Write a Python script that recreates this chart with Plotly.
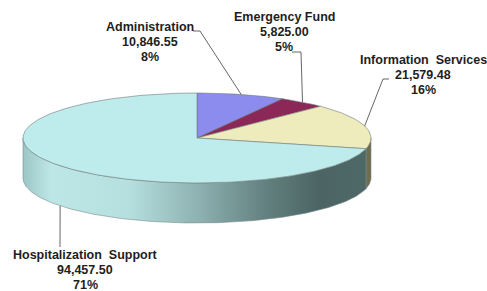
import numpy as np
import plotly.graph_objects as go

# ---- data ----
categories = ["Administration", "Emergency Fund", "Information Services", "Hospitalization Support"]
values = [10846.55, 5825.00, 21579.48, 94457.50]
pct_labels = ["8%", "5%", "16%", "71%"]

# ---- style / geometry ----
top_colors = ["#8C8CEE", "#8B2858", "#EEEBBC", "#BEEBEB"]
side_colors = ["#5A5AA0", "#5A1A38", "#6E6C4C", "#7FA3A3"]
W, H = 487, 291
cx, cy, rx, ry, depth = 197, 138, 174, 45, 40

def pt(t, dy=0.0):
    return cx + rx * np.sin(t), cy - ry * np.cos(t) + dy

total = sum(values)
fr = np.array(values) / total
cum = np.concatenate([[0], np.cumsum(fr)]) * 2 * np.pi

fig = go.Figure()

# side walls (front half only: t in (pi/2, 3pi/2))
for i in range(len(values)):
    a, b = max(cum[i], np.pi / 2), min(cum[i + 1], 3 * np.pi / 2)
    if b <= a:
        continue
    t = np.linspace(a, b, 200)
    xt, yt = pt(t)
    xb, yb = pt(t[::-1], depth)
    xs = np.concatenate([xt, xb, xt[:1]])
    ys = np.concatenate([yt, yb, yt[:1]])
    if categories[i] == "Hospitalization Support":
        kw = dict(fillgradient=dict(type="horizontal", start=cx - rx, stop=cx + rx,
                                    colorscale=[[0, "#9CC6C6"], [0.08, "#BDE7E7"], [0.3, "#B6E0E0"],
                                                [0.5, "#8FB2B2"], [0.7, "#62807F"], [0.85, "#4C6464"],
                                                [1, "#4E6868"]]))
    else:
        kw = dict(fillcolor=side_colors[i])
    fig.add_trace(go.Scatter(x=xs, y=ys, mode="lines", fill="toself",
                             line=dict(color="#7A8A8A", width=0.6), hoverinfo="skip", **kw))

# top face slices
for i in range(len(values)):
    t = np.linspace(cum[i], cum[i + 1], max(int(360 * fr[i]), 4))
    xa, ya = pt(t)
    xs = np.concatenate([[cx], xa, [cx]])
    ys = np.concatenate([[cy], ya, [cy]])
    fig.add_trace(go.Scatter(x=xs, y=ys, mode="lines", fill="toself", fillcolor=top_colors[i],
                             line=dict(color="#6F7A7A", width=0.6), hoverinfo="skip"))

# labels (one annotation per text line)
label_x = [150, 284, 423, 85]
label_y0 = [27, 17, 60, 255]
line_gap = 15
elbows = [[(193, 31), (200, 31)], [(292, 52), (301, 52)], [(389, 79), (383, 79)], [(60, 247)]]
for i in range(len(values)):
    name = categories[i].replace(" ", "\u00a0 ") if i >= 2 else categories[i]
    lines = [name, f"{values[i]:,.2f}", pct_labels[i]]
    for k, s in enumerate(lines):
        fig.add_annotation(x=label_x[i], y=label_y0[i] + k * line_gap, text=f"<b>{s}</b>",
                           showarrow=False, xanchor="center", yanchor="middle",
                           font=dict(family="Liberation Sans, Arial", size=12.5, color="#1E1E1E"))
    mid = (cum[i] + cum[i + 1]) / 2
    ex, ey = pt(mid, depth if np.cos(mid) < 0 else 0)
    lx = [p[0] for p in elbows[i]] + [ex]
    ly = [p[1] for p in elbows[i]] + [ey]
    fig.add_trace(go.Scatter(x=lx, y=ly, mode="lines", line=dict(color="#666666", width=1),
                             hoverinfo="skip"))

fig.update_layout(width=W, height=H, margin=dict(l=0, r=0, t=0, b=0),
                  paper_bgcolor="white", plot_bgcolor="white", showlegend=False,
                  xaxis=dict(range=[0, W], visible=False, fixedrange=True),
                  yaxis=dict(range=[H, 0], visible=False, fixedrange=True))
fig.write_html("out.html", config={"displayModeBar": False},
               post_script="document.body.style.margin='0';document.body.style.overflow='hidden';")
